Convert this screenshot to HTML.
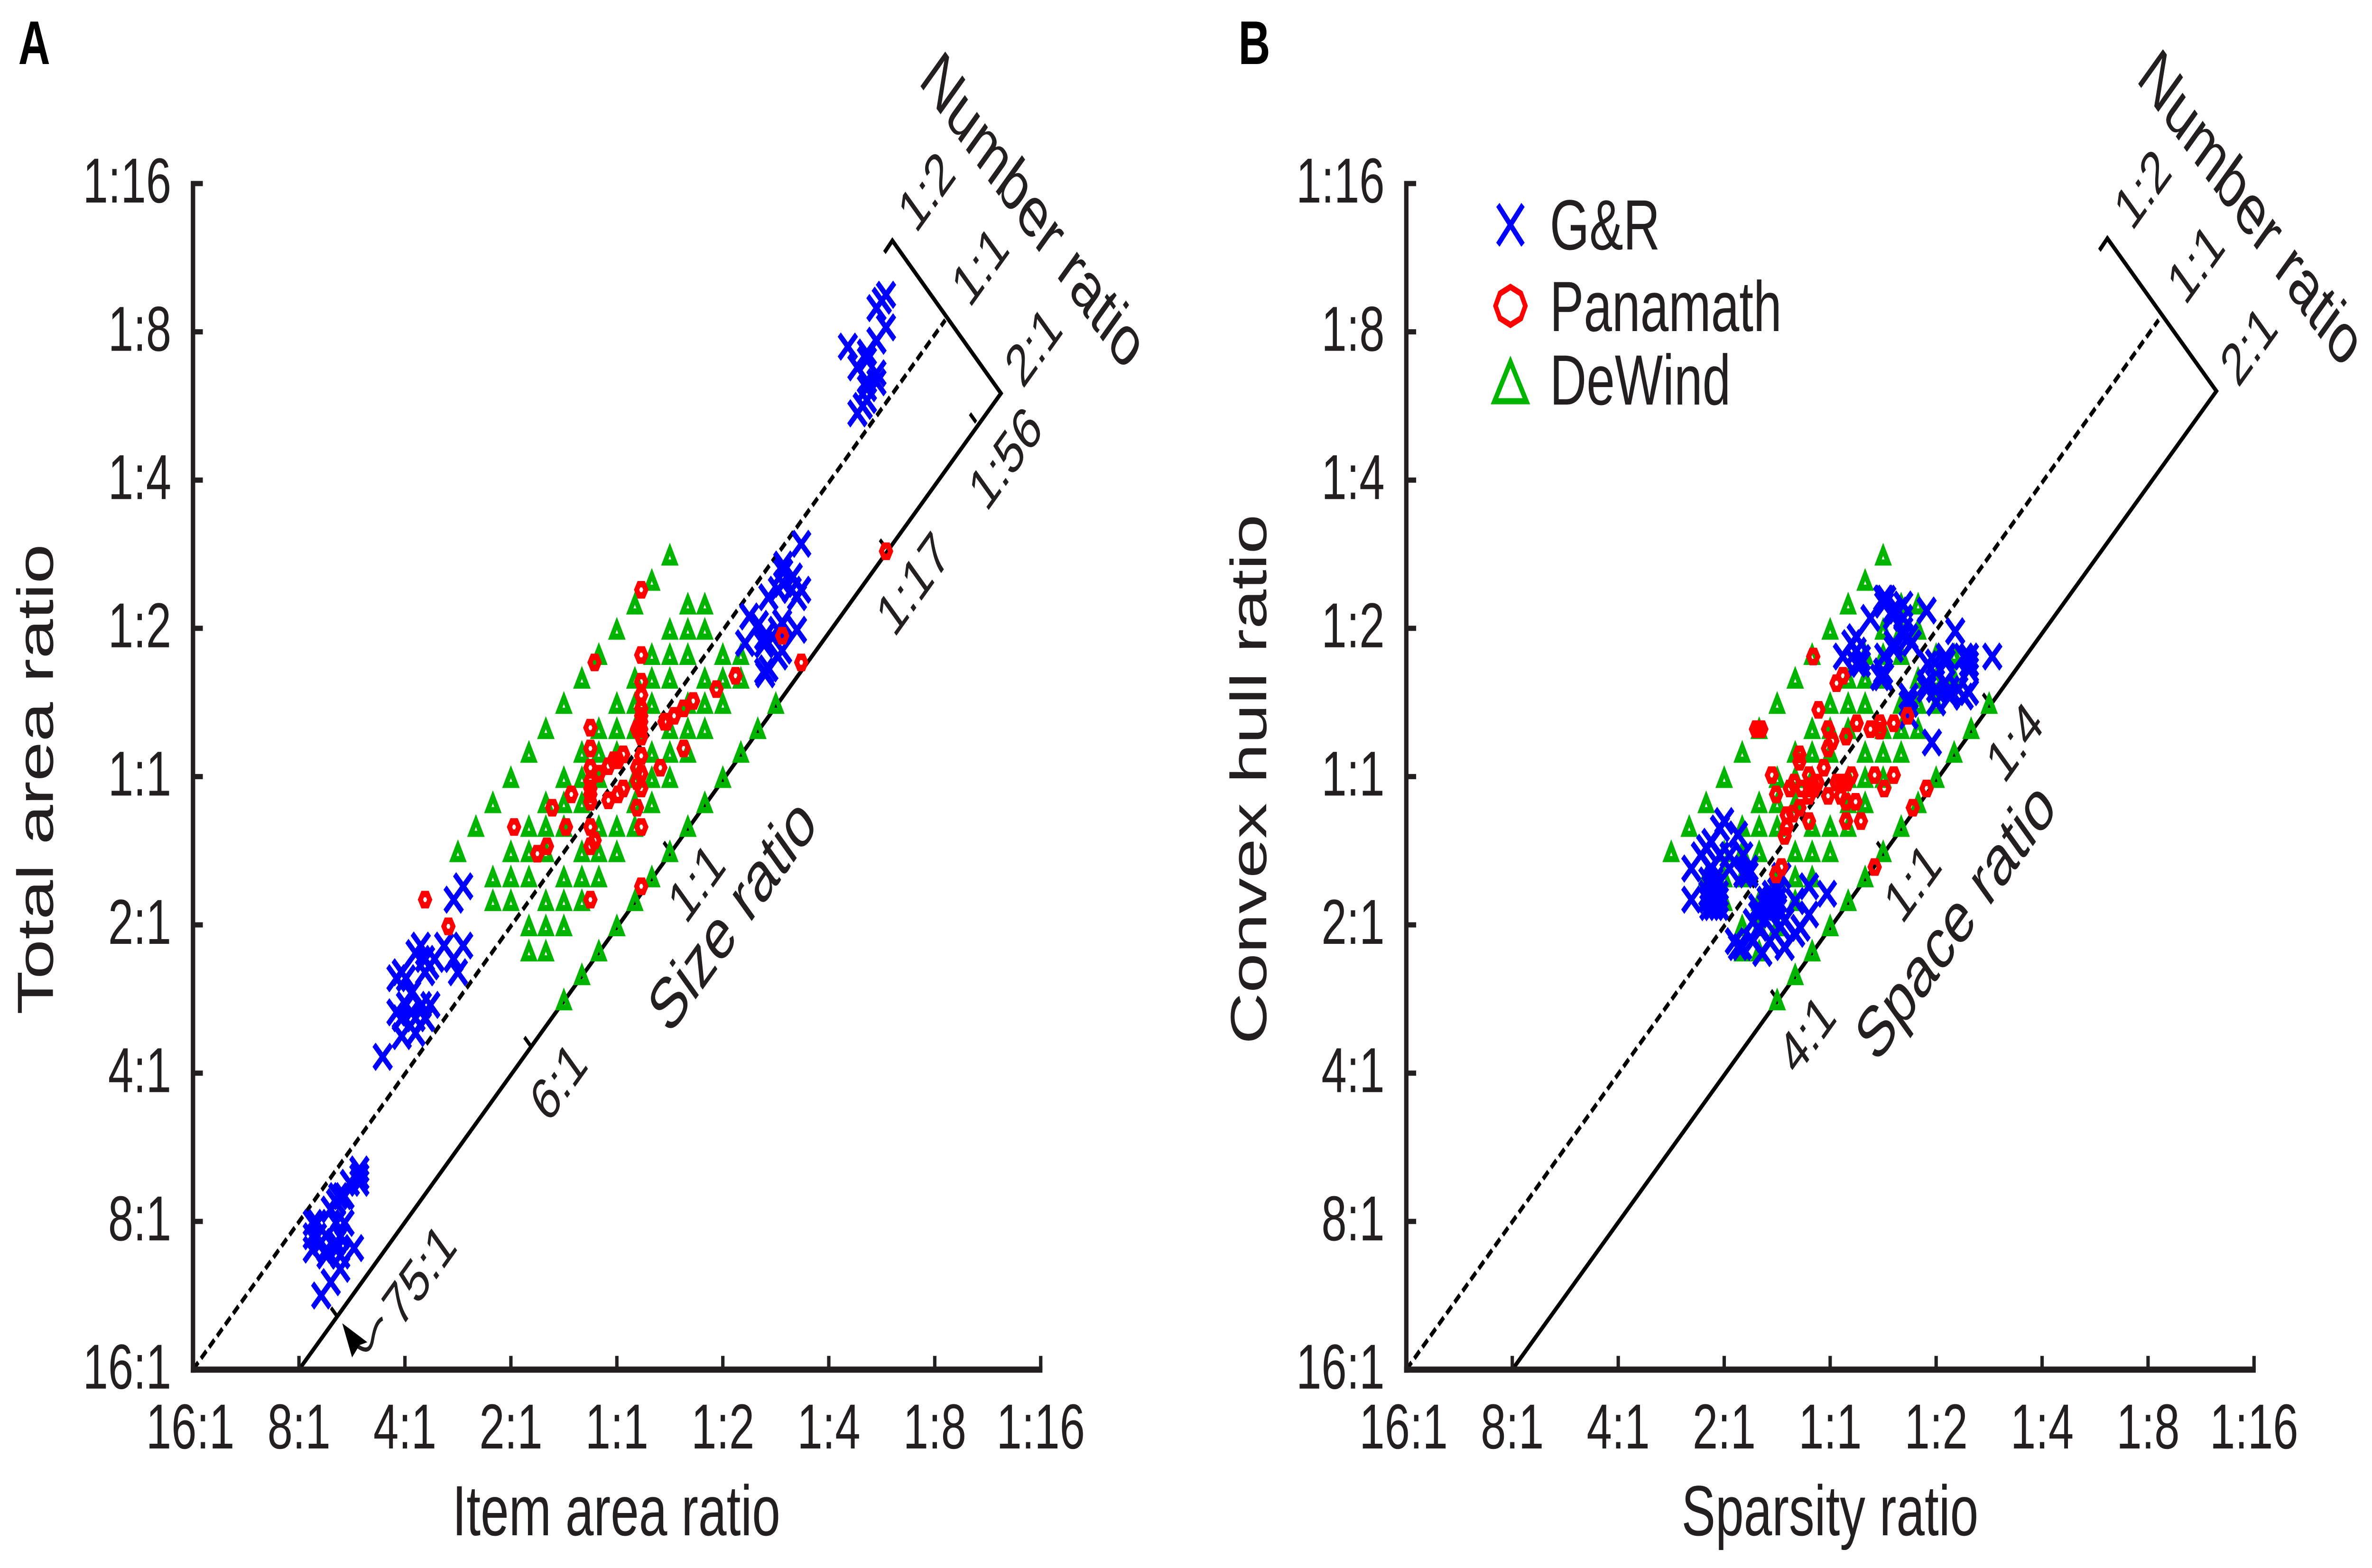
<!DOCTYPE html>
<html lang="en">
<head>
<meta charset="utf-8">
<title>Item area, total area, sparsity and convex hull ratios</title>
<style>
  html, body { margin: 0; padding: 0; background: #ffffff; width: 100%; height: 100%; overflow: hidden; }
  svg { display: block; width: 100vw; height: 100vh; }
  text { font-family: "Liberation Sans", sans-serif; fill: #231f20; }
</style>
</head>
<body>
<svg id="figure" xmlns="http://www.w3.org/2000/svg" viewBox="0 0 6993 3306" preserveAspectRatio="none">
  <rect x="0" y="0" width="6993" height="3306" fill="#ffffff"/>

  <g id="panel-a">
    <g id="lines-a"></g>
    <g id="marks-a"></g>
    <g id="axes-a"></g>
    <text x="54" y="135" font-size="130" font-weight="bold" style="fill:#000">A</text>
    <text x="1817" y="3237" font-size="150" text-anchor="middle">Item area ratio</text>
    <text transform="translate(156 1643) rotate(-90)" font-size="150" text-anchor="middle">Total area ratio</text>
    <text transform="translate(2705 173) rotate(45)" font-size="150">Number ratio</text>
    <text transform="translate(2700 495) rotate(-45)" font-size="125">1:2</text>
    <text transform="translate(2858 652) rotate(-45)" font-size="125">1:1</text>
    <text transform="translate(3015 822) rotate(-45)" font-size="125">2:1</text>
    <text transform="translate(2908 1082) rotate(-45)" font-size="125">1:56</text>
    <text transform="translate(2636 1347) rotate(-45)" font-size="125">1:17</text>
    <text transform="translate(2022 1952) rotate(-45)" font-size="125">1:1</text>
    <text transform="translate(1615 2372) rotate(-45)" font-size="125">6:1</text>
    <text transform="translate(1180 2804) rotate(-45)" font-size="125">75:1</text>
    <text transform="translate(1973 2185) rotate(-45)" font-size="150">Size ratio</text>
    <path d="M1050 2836 C1075 2850 1092 2850 1098 2826 C1103 2805 1110 2786 1128 2780" fill="none" stroke="#231f20" stroke-width="9"/>
    <polygon points="1009,2790 1083,2830 1060,2836 1038,2862" fill="#000000"/>
  </g>

  <g id="panel-b">
    <g id="lines-b"></g>
    <g id="marks-b"></g>
    <g id="axes-b"></g>
    <text x="3651" y="135" font-size="130" font-weight="bold" style="fill:#000">B</text>
    <text x="5395" y="3237" font-size="150" text-anchor="middle">Sparsity ratio</text>
    <text transform="translate(3733 1643) rotate(-90)" font-size="150" text-anchor="middle">Convex hull ratio</text>
    <text transform="translate(6295 168) rotate(45)" font-size="150">Number ratio</text>
    <text transform="translate(6285 490) rotate(-45)" font-size="125">1:2</text>
    <text transform="translate(6442 647) rotate(-45)" font-size="125">1:1</text>
    <text transform="translate(6598 820) rotate(-45)" font-size="125">2:1</text>
    <text transform="translate(5908 1656) rotate(-45)" font-size="125">1:4</text>
    <text transform="translate(5607 1952) rotate(-45)" font-size="125">1:1</text>
    <text transform="translate(5296 2272) rotate(-45)" font-size="125">4:1</text>
    <text transform="translate(5532 2245) rotate(-45)" font-size="150">Space ratio</text>

    <g id="legend">
      <path d="M4416 432 L4490 516 M4490 432 L4416 516" stroke="#0000ff" stroke-width="13" fill="none"/>
      <polygon points="4453,605 4484,619 4497,645 4484,671 4453,685 4422,671 4409,645 4422,619" stroke="#ff0000" stroke-width="13" fill="none"/>
      <polygon points="4453,763 4500,846 4406,846" stroke="#00b400" stroke-width="13" fill="none"/>
      <text x="4569" y="526" font-size="150">G&amp;R</text>
      <text x="4569" y="698" font-size="150">Panamath</text>
      <text x="4569" y="853" font-size="150">DeWind</text>
    </g>
  </g>
</svg>

<script>
// Tick values (log2 of ratio) and their printed labels
const tickValues = [-4, -3, -2, -1, 0, 1, 2, 3, 4];
const tickLabels = ['16:1', '8:1', '4:1', '2:1', '1:1', '1:2', '1:4', '1:8', '1:16'];

// DeWind stimuli (log2 ratios) - same design in both panels
const dewindX = [
  .5,
  .33,
  .17, .67, .83,
  0, .5, .67, .83,
  -.17, .33, .5, .67, 1, 1.17,
  -.33, .17, .33, .5, .83, 1, 1.17,
  -.5, 0, .17, .33, .67, .83, 1, 1.5,
  -.67, -.17, 0, .17, .5, .67, .83, 1.33,
  -.83, -.33, -.17, 0, .33, .5, .67, 1.17,
  -1, -.5, -.33, -.17, .17, .33, .5, 1,
  -1.17, -.67, -.5, -.33, .17, .33, .83,
  -1.33, -.83, -.67, -.5, -.17, 0, .17, .67,
  -1.5, -1, -.83, -.67, -.33, -.17, 0, .5,
  -1.17, -1, -.83, -.5, -.33, -.17, .33,
  -1.17, -1, -.67, -.5, -.33, .17,
  -.83, -.67, -.5, 0,
  -.83, -.67, -.17,
  -.33,
  -.5
];
const dewindY = [
  1.5,
  1.33,
  1.17, 1.17, 1.17,
  1, 1, 1, 1,
  .83, .83, .83, .83, .83, .83,
  .67, .67, .67, .67, .67, .67, .67,
  .5, .5, .5, .5, .5, .5, .5, .5,
  .33, .33, .33, .33, .33, .33, .33, .33,
  .17, .17, .17, .17, .17, .17, .17, .17,
  0, 0, 0, 0, 0, 0, 0, 0,
  -.17, -.17, -.17, -.17, -.17, -.17, -.17,
  -.33, -.33, -.33, -.33, -.33, -.33, -.33, -.33,
  -.5, -.5, -.5, -.5, -.5, -.5, -.5, -.5,
  -.67, -.67, -.67, -.67, -.67, -.67, -.67,
  -.83, -.83, -.83, -.83, -.83, -.83,
  -1, -1, -1, -1,
  -1.17, -1.17, -1.17,
  -1.33,
  -1.5
];

// G&R stimuli, panel A: item area ratio (x) vs total area ratio (y)
const grItemArea = [
  2.54, 2.50, 2.45, 2.54, 2.45, 2.18, 2.36, 2.27, 2.36, 2.45, 2.45, 2.36, 2.36, 2.36, 2.32, 2.27,
  1.74, 1.57, 1.57, 1.66, 1.57, 1.52, 1.74, 1.65, 1.70, 1.43, 1.25, 1.34, 1.21, 1.52, 1.56, 1.70, 1.39, 1.39, 1.56, 1.52, 1.43, 1.39, 1.40,
  -1.45, -1.54, -1.85, -1.90, -1.81, -1.63, -1.45, -1.54, -1.50, -2.03, -2.08, -1.99, -1.81, -1.77, -1.72, -1.94, -1.76, -1.84, -2.08, -1.99, -1.94, -2.03, -1.90, -2.03, -1.90, -1.81, -2.21,
  -2.43, -2.43, -2.43, -2.52, -2.59, -2.63, -2.65, -2.57, -2.70, -2.87, -2.83, -2.87, -2.87, -2.74, -2.74, -2.65, -2.57, -2.61, -2.65, -2.65, -2.61, -2.48, -2.61, -2.70, -2.79, -2.83, -2.79
];
const grTotalArea = [
  3.25, 3.21, 3.16, 3.03, 2.94, 2.90, 2.86, 2.76, 2.81, 2.72, 2.66, 2.67, 2.62, 2.54, 2.50, 2.45,
  1.57, 1.43, 1.38, 1.35, 1.30, 1.26, 1.26, 1.26, 1.21, 1.21, 1.08, 1.03, .90, .99, 1.04, .99, .94, .89, .85, .81, .73, .71, .69,
  -.74, -.83, -1.14, -1.19, -1.23, -1.14, -1.14, -1.23, -1.32, -1.32, -1.36, -1.36, -1.32, -1.28, -1.23, -1.46, -1.54, -1.54, -1.59, -1.54, -1.59, -1.63, -1.63, -1.75, -1.73, -1.63, -1.89,
  -2.65, -2.74, -2.70, -2.74, -2.83, -2.83, -2.87, -2.83, -2.92, -3.01, -3.01, -3.19, -3.10, -3.19, -3.23, -3.01, -3.01, -3.10, -3.14, -3.19, -3.23, -3.18, -3.32, -3.41, -3.50, -3.10, -3.14
];

// Panamath stimuli, panel A
const panamathItemArea = [
  .23, -.21, .23, .23, .23, .23, .23, .23, .23, .19, .23, .23, .19, .23, .19, .23,
  .41, .63, .47, .45, .54, .63, .72, .94, 1.12,
  -.25, -.25, -.25, -.25, -.25, -.25, -.25, -.17, -.08, -.03, .01, .06,
  -.43, -.61, -.97, -.48, -.25, -.21, -.25, -.66, -.75, -.08, .01, .06, .19, .23, .23, -.25,
  -1.59, -1.81, 2.54, 1.56, 1.74
];
const panamathTotalArea = [
  1.26, .77, .82, .64, .55, .46, .41, .37, .32, .32, .27, .14, .06, .02, -.03, -.08,
  .06, .19, .37, .37, .41, .46, .51, .59, .68,
  .33, .19, .06, -.03, -.08, -.12, -.17, .02, .07, .11, .11, .15,
  -.12, -.21, -.34, -.34, -.34, -.43, -.47, -.47, -.52, -.16, -.12, -.08, -.21, -.34, -.74, -.83,
  -1.01, -.83, 1.52, .95, .77
];

// G&R stimuli, panel B: sparsity ratio (x) vs convex hull ratio (y)
const grSparsity = [
  .91, 1.18, .38, .51, .50, .53, .51, .69, .64, .69, .59, .59, .69, .69, .74, .60, .60, .77, .25, .20, .25, .12, .29, .29, .25, .51,
  .50, .50, .47, .74, .74, .74, .96, 1.00, .99, 1.09, 1.09, .92, 1.31, 1.31, 1.26, 1.31, 1.31, 1.26, 1.13, 1.08, .91, .91, 1.00, 1.13, 1.21, 1.53,
  -1.00, -1.04, -.87, -1.12, -1.17, -1.22, -.82, -.77, -1.31, -1.04, -.95, -1.12, -.95, -.82, -.77, -1.31, -1.14, -1.10, -1.05, -1.10, -1.15, -1.10, -1.10, -1.05, -1.15, -1.10, -1.15, -1.05,
  -.55, -.60, -.55, -.50, -.55, -.60, -.50, -.46, -.50, -.20, -.20, -.03, -.33, -.28, -.33, -.43, -.43, -.47, -.52, -.57, -.64, -.73, -.68, -.90, -.87, -.83, -.73, -.68, -.68, -.61, -.57
];
const grConvexHull = [
  1.12, .98, 1.07, 1.20, 1.20, 1.20, 1.16, 1.16, 1.12, 1.07, 1.12, 1.08, .95, .99, .94, .90, .86, .90, .94, .90, .85, .81, .80, .76, .76, .81,
  .67, .71, .67, .54, .49, .41, .23, .50, .77, .77, .81, .76, .81, .76, .81, .72, .57, .54, .59, .63, .59, .63, .59, .54, .59, .81,
  -.30, -.35, -.39, -.44, -.48, -.53, -.53, -.62, -.62, -.53, -.53, -.62, -.62, -.66, -.66, -.83, -.88, -.88, -.88, -.79, -.70, -.70, -.74, -.79, -.79, -.83, -.83, -.83,
  -.79, -.83, -.83, -.83, -.88, -.88, -.88, -.67, -.77, -.74, -.93, -.79, -.84, -1.02, -1.06, -1.15, -.97, -1.01, -1.06, -1.11, -1.19, -.98, -1.02, -1.11, -1.15, -1.15, -1.11, -.88, -.93, -.97, -.93
];

// Panamath stimuli, panel B
const panamathSparsity = [
  -.16, .12, .06, -.11, -.02, .02, -.02, .15, .25, .38, .47, .47, .60, .73, -.70, -.65, -.29, -.29, -.06,
  -.55, -.51, -.38, -.34, -.27, -.20, -.19, -.20, -.12, -.15, -.02, .06, .11, .16, .20, .10, .15, .24, .42, .60, .51,
  .15, .29, -.20, -.29, -.41, -.41, -.43, -.35, -.46, -.51, .78, .91, .42
];
const panamathConvexHull = [
  .81, .68, .63, .45, .32, .24, .19, .27, .36, .32, .36, .31, .36, .41, .32, .32, .15, .10, .06,
  .01, -.12, -.08, -.04, -.08, .01, -.08, -.13, -.04, -.08, -.13, -.04, -.04, -.04, .01, -.13, -.17, -.17, .01, .01, -.08,
  -.30, -.30, -.30, -.21, -.26, -.34, -.40, -.25, -.61, -.66, -.21, -.08, -.61
];

// Notch positions on the solid size / space lines (log2 of x-axis ratio)
const sizeNotches = [-2.64, -.815, .5, 2.54, 3.39];
const spaceNotches = [-.5, .5, 1.5];

const NS = 'http://www.w3.org/2000/svg';
const UNIT_X = 312.4;
const UNIT_Y = 312.6;
const Y_ZERO = 1637.4;
const INK = '#231f20';

function scaleY(v) { return Y_ZERO - v * UNIT_Y; }

function create(parent, tag, attrs) {
  const el = document.createElementNS(NS, tag);
  for (const k in attrs) el.setAttribute(k, attrs[k]);
  parent.appendChild(el);
  return el;
}

function drawAxes(parent, x0, suffix) {
  const sx = v => x0 + (v + 4) * UNIT_X;
  const yLine = create(parent, 'line', {x1: sx(-4), y1: scaleY(4) - 5.5, x2: sx(-4), y2: scaleY(-4) + 6.5, stroke: INK, 'stroke-width': 13});
  
  
  const xLine = create(parent, 'line', {x1: sx(-4) - 6.5, y1: scaleY(-4), x2: sx(4) + 5, y2: scaleY(-4), stroke: INK, 'stroke-width': 13});
  
  
  tickValues.forEach((v, i) => {
    const yTick = create(parent, 'line', {x1: sx(-4), y1: scaleY(v), x2: sx(-4) + 29, y2: scaleY(v), stroke: INK, 'stroke-width': 11});
    
    
    const xTick = create(parent, 'line', {x1: sx(v), y1: scaleY(-4), x2: sx(v), y2: scaleY(-4) - 29, stroke: INK, 'stroke-width': 10});
    
    
    const yText = create(parent, 'text', {x: sx(-4) - 64, y: scaleY(v) + 40, 'font-size': 134, 'text-anchor': 'end'});
    yText.textContent = tickLabels[i];
    
    
    const xText = create(parent, 'text', {x: sx(v) - (i === 0 ? 8 : 0), y: 3054, 'font-size': 134, 'text-anchor': 'middle'});
    xText.textContent = tickLabels[i];
    
    
  });
}

function drawLines(parent, x0, suffix, notches, solidEnd, bracketTop) {
  const sx = v => x0 + (v + 4) * UNIT_X;
  const dashed = create(parent, 'line', {x1: sx(-4), y1: scaleY(-4), x2: sx(3.1), y2: scaleY(3.08), stroke: '#000', 'stroke-width': 10, 'stroke-dasharray': '22 11.5'});
  
  
  const solid = create(parent, 'polyline', {points: sx(-3) + ',' + scaleY(-4) + ' ' + sx(solidEnd[0]) + ',' + scaleY(solidEnd[1]) + ' ' + sx(bracketTop[0]) + ',' + scaleY(bracketTop[1]) + ' ' + sx(bracketTop[0] - 0.075) + ',' + scaleY(bracketTop[1] - 0.08), fill: 'none', stroke: '#000', 'stroke-width': 10, 'stroke-linejoin': 'miter'});
  
  
  notches.forEach(n => {
    const notch = create(parent, 'line', {x1: sx(n), y1: scaleY(n - 1), x2: sx(n) - 18, y2: scaleY(n - 1) - 18, stroke: '#000', 'stroke-width': 9});
    
    
  });
}

function drawTriangles(parent, x0, xs, ys, suffix) {
  xs.forEach((u, i) => {
    const cx = x0 + (u + 4) * UNIT_X;
    const cy = scaleY(ys[i]);
    const mark = create(parent, 'polygon', {points: cx + ',' + (cy - 10.4) + ' ' + (cx + 15) + ',' + (cy + 17.5) + ' ' + (cx - 15) + ',' + (cy + 17.5), fill: 'none', stroke: '#00b400', 'stroke-width': 13});
    
    
  });
}

function drawCrosses(parent, x0, xs, ys, suffix) {
  xs.forEach((u, i) => {
    const cx = x0 + (u + 4) * UNIT_X;
    const cy = scaleY(ys[i]);
    const mark = create(parent, 'path', {d: 'M' + (cx - 25.4) + ' ' + (cy - 25.4) + 'L' + (cx + 25.4) + ' ' + (cy + 25.4) + 'M' + (cx + 25.4) + ' ' + (cy - 25.4) + 'L' + (cx - 25.4) + ' ' + (cy + 25.4), fill: 'none', stroke: '#0000ff', 'stroke-width': 13});
    
    
  });
}

function drawHexagons(parent, x0, xs, ys, suffix) {
  xs.forEach((u, i) => {
    const cx = x0 + (u + 4) * UNIT_X;
    const cy = scaleY(ys[i]);
    const r = 13.6;
    const h = r * 0.866;
    const pts = [[r, 0], [r / 2, h], [-r / 2, h], [-r, 0], [-r / 2, -h], [r / 2, -h]].map(p => (cx + p[0]) + ',' + (cy + p[1])).join(' ');
    const mark = create(parent, 'polygon', {points: pts, fill: 'none', stroke: '#ff0000', 'stroke-width': 13.6});
    
    
  });
}

const X0_A = 569;
const X0_B = 4146;

drawLines(document.getElementById('lines-a'), X0_A, 'a', sizeNotches, [3.625, 2.585], [2.6, 3.615]);
drawLines(document.getElementById('lines-b'), X0_B, 'b', spaceNotches, [3.645, 2.6], [2.616, 3.63]);

const marksA = document.getElementById('marks-a');
drawTriangles(marksA, X0_A, dewindX, dewindY, 'a');
drawCrosses(marksA, X0_A, grItemArea, grTotalArea, 'a');
drawHexagons(marksA, X0_A, panamathItemArea, panamathTotalArea, 'a');

const marksB = document.getElementById('marks-b');
drawTriangles(marksB, X0_B, dewindX, dewindY, 'b');
drawCrosses(marksB, X0_B, grSparsity, grConvexHull, 'b');
drawHexagons(marksB, X0_B, panamathSparsity, panamathConvexHull, 'b');

drawAxes(document.getElementById('axes-a'), X0_A, 'a');
drawAxes(document.getElementById('axes-b'), X0_B, 'b');
</script>
</body>
</html>
